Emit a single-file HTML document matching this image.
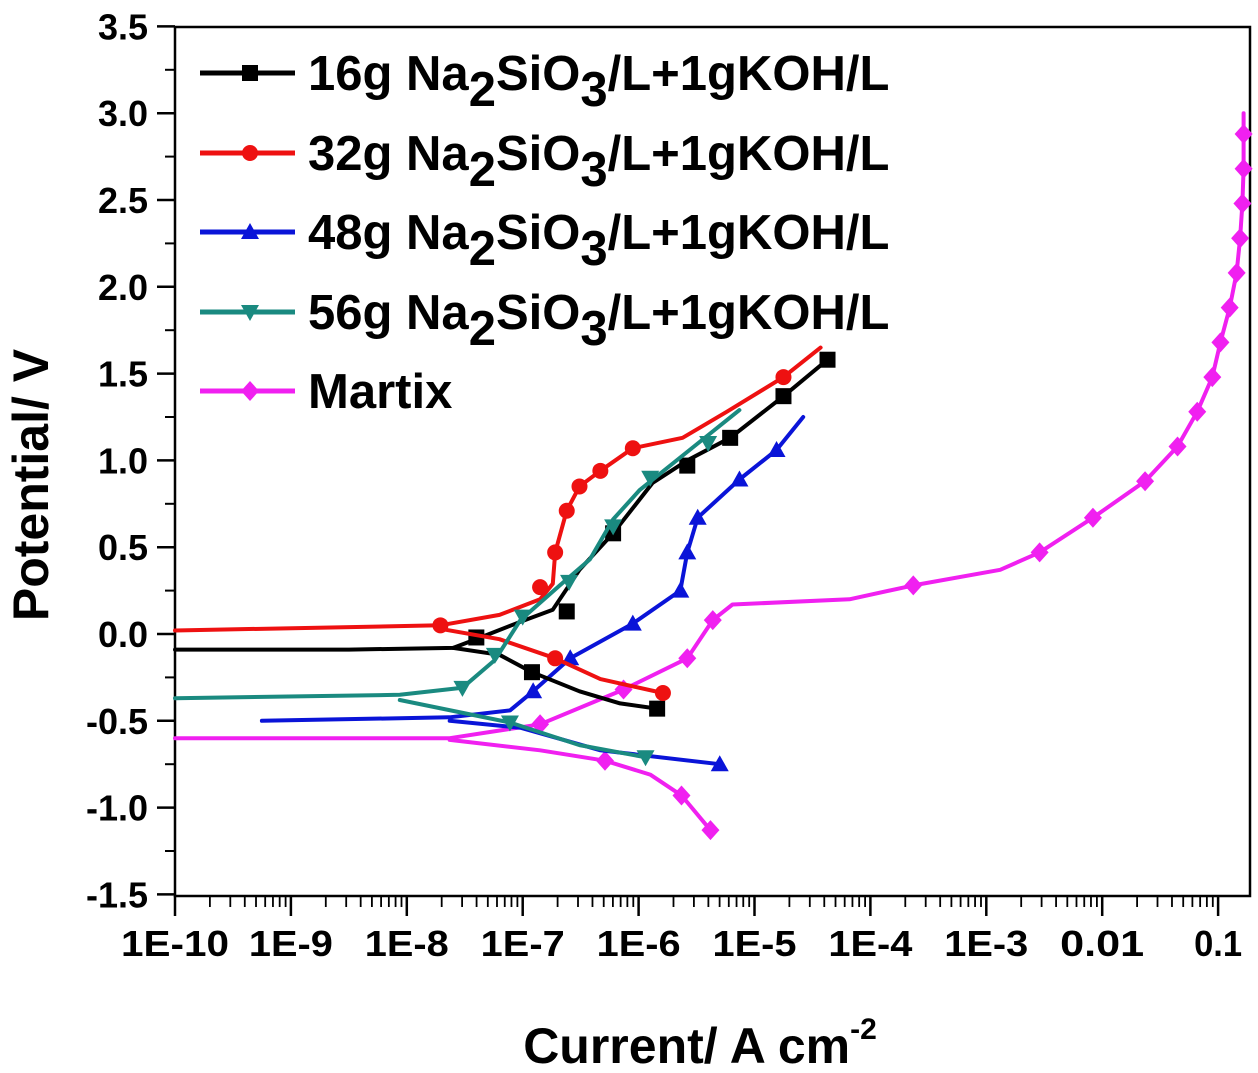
<!DOCTYPE html>
<html><head><meta charset="utf-8"><style>
html,body{margin:0;padding:0;background:#fff;}
svg{display:block;font-family:"Liberation Sans",Arial,sans-serif;font-weight:bold;}
</style></head><body>
<svg id="chart" width="1258" height="1073" viewBox="0 0 1258 1073">
<g id="axes"></g>
<g id="series"></g>
<g id="legend"></g>
<text transform="translate(48,485) rotate(-90)" text-anchor="middle" font-size="50">Potential/ V</text>
<text x="700" y="1063" text-anchor="middle" font-size="50">Current/ A cm<tspan font-size="30" dy="-24">-2</tspan></text>
</svg>
<script>
const xTickLabels = ["1E-10","1E-9","1E-8","1E-7","1E-6","1E-5","1E-4","1E-3","0.01","0.1"];
const yTickValues = [3.5,3.0,2.5,2.0,1.5,1.0,0.5,0.0,-0.5,-1.0,-1.5];
const yTickLabels = ["3.5","3.0","2.5","2.0","1.5","1.0","0.5","0.0","-0.5","-1.0","-1.5"];

const blackAnodicI = [-10,-8.5,-7.6,-7.44,-7.02,-6.74,-6.51,-6.22,-5.88,-5.58,-5.21,-4.75,-4.37];
const blackAnodicV = [-0.09,-0.09,-0.08,-0.04,0.07,0.14,0.37,0.58,0.87,1.00,1.13,1.37,1.58];
const blackCathodicI = [-7.6,-7.2,-6.92,-6.51,-6.16,-5.84];
const blackCathodicV = [-0.08,-0.12,-0.22,-0.33,-0.40,-0.43];
const blackMarkI = [-6.92,-5.84,-7.4,-6.62,-6.22,-5.58,-5.21,-4.75,-4.37];
const blackMarkV = [-0.22,-0.43,-0.02,0.13,0.58,0.97,1.13,1.37,1.58];

const redAnodicI = [-10,-7.71,-7.20,-6.85,-6.74,-6.72,-6.62,-6.51,-6.33,-6.05,-5.62,-5.24,-4.75,-4.43];
const redAnodicV = [0.02,0.05,0.11,0.20,0.29,0.47,0.71,0.85,0.94,1.07,1.13,1.28,1.48,1.65];
const redCathodicI = [-7.71,-7.20,-6.72,-6.33,-5.79];
const redCathodicV = [0.03,-0.03,-0.14,-0.26,-0.34];
const redMarkI = [-7.71,-6.85,-6.72,-6.62,-6.51,-6.33,-6.05,-4.75,-6.72,-5.79];
const redMarkV = [0.05,0.27,0.47,0.71,0.85,0.94,1.07,1.48,-0.14,-0.34];

const blueAnodicI = [-9.25,-7.63,-7.11,-6.91,-6.59,-6.05,-5.64,-5.58,-5.49,-5.13,-4.81,-4.58];
const blueAnodicV = [-0.50,-0.48,-0.44,-0.33,-0.14,0.06,0.25,0.47,0.67,0.89,1.06,1.25];
const blueCathodicI = [-7.63,-7.02,-6.33,-5.30];
const blueCathodicV = [-0.50,-0.54,-0.67,-0.75];
const blueMarkI = [-6.91,-6.59,-6.05,-5.64,-5.58,-5.49,-5.13,-4.81,-5.30];
const blueMarkV = [-0.33,-0.14,0.06,0.25,0.47,0.67,0.89,1.06,-0.75];

const tealAnodicI = [-10,-8.06,-7.52,-7.24,-7.02,-6.68,-6.42,-6.22,-5.99,-5.56,-5.13];
const tealAnodicV = [-0.37,-0.35,-0.31,-0.15,0.08,0.28,0.43,0.66,0.83,1.06,1.29];
const tealCathodicI = [-8.06,-7.11,-6.51,-5.94];
const tealCathodicV = [-0.38,-0.51,-0.64,-0.71];
const tealMarkI = [-7.52,-7.24,-7.0,-6.6,-6.22,-5.9,-5.4,-7.11,-5.94];
const tealMarkV = [-0.31,-0.12,0.1,0.3,0.62,0.9,1.1,-0.51,-0.71];

const magAnodicI = [-10,-7.63,-6.85,-6.13,-5.58,-5.36,-5.19,-4.18,-3.63,-2.88,-2.54,-2.08,-1.63,-1.35,-1.18,-1.05,-0.98,-0.90,-0.84,-0.81,-0.79,-0.78,-0.78,-0.78];
const magAnodicV = [-0.60,-0.60,-0.52,-0.32,-0.14,0.08,0.17,0.20,0.28,0.37,0.47,0.67,0.88,1.08,1.28,1.48,1.68,1.88,2.08,2.28,2.48,2.68,2.88,3.0];
const magCathodicI = [-7.63,-6.85,-6.29,-5.90,-5.63,-5.38];
const magCathodicV = [-0.61,-0.67,-0.73,-0.81,-0.93,-1.13];
const magMarkI = [-6.85,-6.13,-5.58,-5.36,-3.63,-2.54,-2.08,-1.63,-1.35,-1.18,-1.05,-0.98,-0.90,-0.84,-0.81,-0.79,-0.78,-0.78,-6.29,-5.63,-5.38];
const magMarkV = [-0.52,-0.32,-0.14,0.08,0.28,0.47,0.67,0.88,1.08,1.28,1.48,1.68,1.88,2.08,2.28,2.48,2.68,2.88,-0.73,-0.93,-1.13];

const legendLabels = ["16g Na","32g Na","48g Na","56g Na","Martix"];

const NS = "http://www.w3.org/2000/svg";
const X0 = 175, DEC = 115.9, Y0 = 634, PV = 173.6;
function xs(l){ return X0 + (l + 10) * DEC; }
function ys(v){ return Y0 - v * PV; }
function mk(tag, attrs, parent){ const e = document.createElementNS(NS, tag); for (const k in attrs) e.setAttribute(k, attrs[k]); parent.appendChild(e); return e; }

const axes = document.getElementById('axes');
const fr = mk('rect', {x:175, y:27, width:1075, height:869, fill:'none', stroke:'#000', 'stroke-width':2.5}, axes);


for (let i = 0; i < yTickValues.length; i++) {
  const y = ys(yTickValues[i]);
  mk('line', {x1:157, y1:y, x2:175, y2:y, stroke:'#000', 'stroke-width':2.5}, axes);
  if (i < yTickValues.length - 1) { const ym = ys(yTickValues[i] - 0.25); mk('line', {x1:165, y1:ym, x2:175, y2:ym, stroke:'#000', 'stroke-width':2}, axes); }
  const t = mk('text', {x:148, y:y + 13, 'text-anchor':'end', 'font-size':36}, axes);
  t.textContent = yTickLabels[i];
  
  
}
for (let d = 0; d < xTickLabels.length; d++) {
  const x = xs(d - 10);
  mk('line', {x1:x, y1:896, x2:x, y2:916, stroke:'#000', 'stroke-width':2.5}, axes);
  for (let m = 2; m <= 9; m++) {
    const xm = xs(d - 10 + Math.log10(m));
    if (xm < 1250) mk('line', {x1:xm, y1:896, x2:xm, y2:907, stroke:'#000', 'stroke-width':1.8}, axes);
  }
  const n = xTickLabels[d].length;
  const t = mk('text', {x:x, y:956, 'text-anchor':'middle', 'font-size':36, textLength: n === 5 ? 108 : (n === 4 ? 84 : 48), lengthAdjust:'spacingAndGlyphs'}, axes);
  t.textContent = xTickLabels[d];
  
  
}

const seriesG = document.getElementById('series');
function marker(shape, x, y, col, g){
  const s = 9;
  if (shape === 'square') return mk('rect', {x:x-s+1, y:y-s+1, width:2*s-2, height:2*s-2, fill:col}, g);
  if (shape === 'circle') return mk('circle', {cx:x, cy:y, r:s-1, fill:col}, g);
  if (shape === 'up') return mk('polygon', {points:`${x},${y-s} ${x-s},${y+s-2} ${x+s},${y+s-2}`, fill:col}, g);
  if (shape === 'down') return mk('polygon', {points:`${x},${y+s} ${x-s},${y-s+2} ${x+s},${y-s+2}`, fill:col}, g);
  return mk('polygon', {points:`${x},${y-s-1} ${x+s},${y} ${x},${y+s+1} ${x-s},${y}`, fill:col}, g);
}
function drawSeries(name, col, shape, aI, aV, cI, cV, mI, mV){
  const g = mk('g', {}, seriesG);
  
  
  [[aI,aV],[cI,cV]].forEach(([I,V], k) => {
    const pts = I.map((l,i) => xs(l).toFixed(1) + ',' + ys(V[i]).toFixed(1)).join(' ');
    const pl = mk('polyline', {points:pts, fill:'none', stroke:col, 'stroke-width':4, 'stroke-linejoin':'round', 'stroke-linecap':'round'}, g);
    
    
  });
  for (let i = 0; i < mI.length; i++) {
    const m = marker(shape, xs(mI[i]), ys(mV[i]), col, g);
    
    
  }
}
drawSeries('series-martix', '#f020f0', 'diamond', magAnodicI, magAnodicV, magCathodicI, magCathodicV, magMarkI, magMarkV);
drawSeries('series-48g', '#0a14d8', 'up', blueAnodicI, blueAnodicV, blueCathodicI, blueCathodicV, blueMarkI, blueMarkV);
drawSeries('series-16g', '#000000', 'square', blackAnodicI, blackAnodicV, blackCathodicI, blackCathodicV, blackMarkI, blackMarkV);
drawSeries('series-32g', '#ee1111', 'circle', redAnodicI, redAnodicV, redCathodicI, redCathodicV, redMarkI, redMarkV);
drawSeries('series-56g', '#1a8a80', 'down', tealAnodicI, tealAnodicV, tealCathodicI, tealCathodicV, tealMarkI, tealMarkV);

const legend = document.getElementById('legend');
const lcols = ['#000000','#ee1111','#0a14d8','#1a8a80','#f020f0'];
const lshapes = ['square','circle','up','down','diamond'];
const lys = [73,153,232,312,391];
const nums = ['16g','32g','48g','56g'];
for (let i = 0; i < 5; i++) {
  const g = mk('g', {}, legend);
  
  
  mk('line', {x1:200, y1:lys[i], x2:295, y2:lys[i], stroke:lcols[i], 'stroke-width':5}, g);
  marker(lshapes[i], 250, lys[i], lcols[i], g);
  const t = mk('text', {x:308, y:lys[i] + 17, 'font-size':49}, g);
  if (i < 4) {
    t.innerHTML = nums[i] + ' Na<tspan dy="16">2</tspan><tspan dy="-16">SiO</tspan><tspan dy="16">3</tspan><tspan dy="-16">/L+1gKOH/L</tspan>';
  } else {
    t.textContent = legendLabels[i];
  }
}
</script>
</body></html>
